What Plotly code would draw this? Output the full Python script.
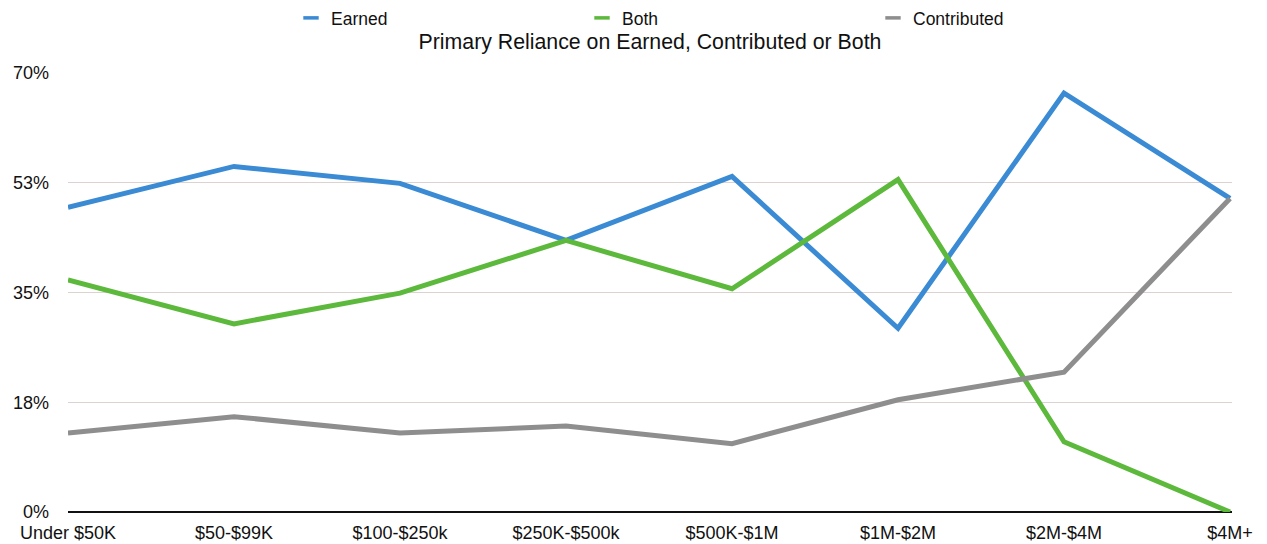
import plotly.graph_objects as go

# Revenue bands of the organisations surveyed
categories = ["Under $50K", "$50-$99K", "$100-$250k", "$250K-$500k",
              "$500K-$1M", "$1M-$2M", "$2M-$4M", "$4M+"]

# Share (%) of organisations primarily relying on each revenue type
earned = [48.6, 55.1, 52.4, 43.3, 53.5, 29.3, 66.8, 50.0]
both = [37.0, 30.0, 34.9, 43.3, 35.6, 53.0, 11.2, 0.0]
contributed = [12.6, 15.2, 12.6, 13.7, 10.9, 17.9, 22.3, 50.0]

tick_vals = [0, 17.5, 35, 52.5, 70]
tick_text = ["0%", "18%", "35%", "53%", "70%"]

series = [
    ("Earned", earned, "#3a8ad4"),
    ("Both", both, "#5cb93c"),
    ("Contributed", contributed, "#8e8e8e"),
]

x_idx = list(range(len(categories)))

fig = go.Figure()
for name, values, color in series:
    fig.add_trace(go.Scatter(
        x=x_idx, y=values, name=name, mode="lines",
        line=dict(color=color, width=5), cliponaxis=False,
        showlegend=False, legendgroup=name,
    ))
# Legend entries drawn as short horizontal dashes
for name, values, color in series:
    fig.add_trace(go.Scatter(
        x=[None], y=[None], name=name, mode="markers", legendgroup=name,
        marker=dict(symbol="line-ew", size=11, color=color,
                    line=dict(color=color, width=3.5)),
        showlegend=True, hoverinfo="skip",
    ))

font_family = "Liberation Sans, Arial, Helvetica, sans-serif"

fig.update_layout(
    width=1267, height=544,
    margin=dict(l=68, r=35, t=73, b=32, autoexpand=False),
    paper_bgcolor="white", plot_bgcolor="white",
    font=dict(family=font_family, size=18, color="#111111"),
    title=dict(
        text="Primary Reliance on Earned, Contributed or Both",
        x=650 / 1267, xref="container", xanchor="center",
        y=1 - 42 / 544, yref="container", yanchor="middle",
        font=dict(size=21.3, color="#111111"),
    ),
    legend=dict(
        orientation="h",
        x=291 / 1267, xref="container", xanchor="left",
        y=1 - 18 / 544, yref="container", yanchor="middle",
        entrywidth=246, entrywidthmode="pixels", itemwidth=30,
        font=dict(size=17.5, color="#111111"), bgcolor="rgba(0,0,0,0)",
    ),
    showlegend=True,
)

fig.update_xaxes(
    tickmode="array", tickvals=x_idx, ticktext=categories,
    range=[0, 7.012], showgrid=False, zeroline=False, automargin=False,
    showline=False, ticks="", tickfont=dict(size=18, color="#111111"),
    ticklabelstandoff=8,
)

fig.update_yaxes(
    range=[0, 70], tickmode="array", tickvals=tick_vals, ticktext=tick_text,
    showgrid=True, gridcolor="#dcd2d0", gridwidth=1, automargin=False,
    zeroline=True, zerolinecolor="#111111", zerolinewidth=2,
    showline=False, ticks="", tickfont=dict(size=18, color="#111111"),
    ticklabelstandoff=18,
)

fig.write_html("out.html")
